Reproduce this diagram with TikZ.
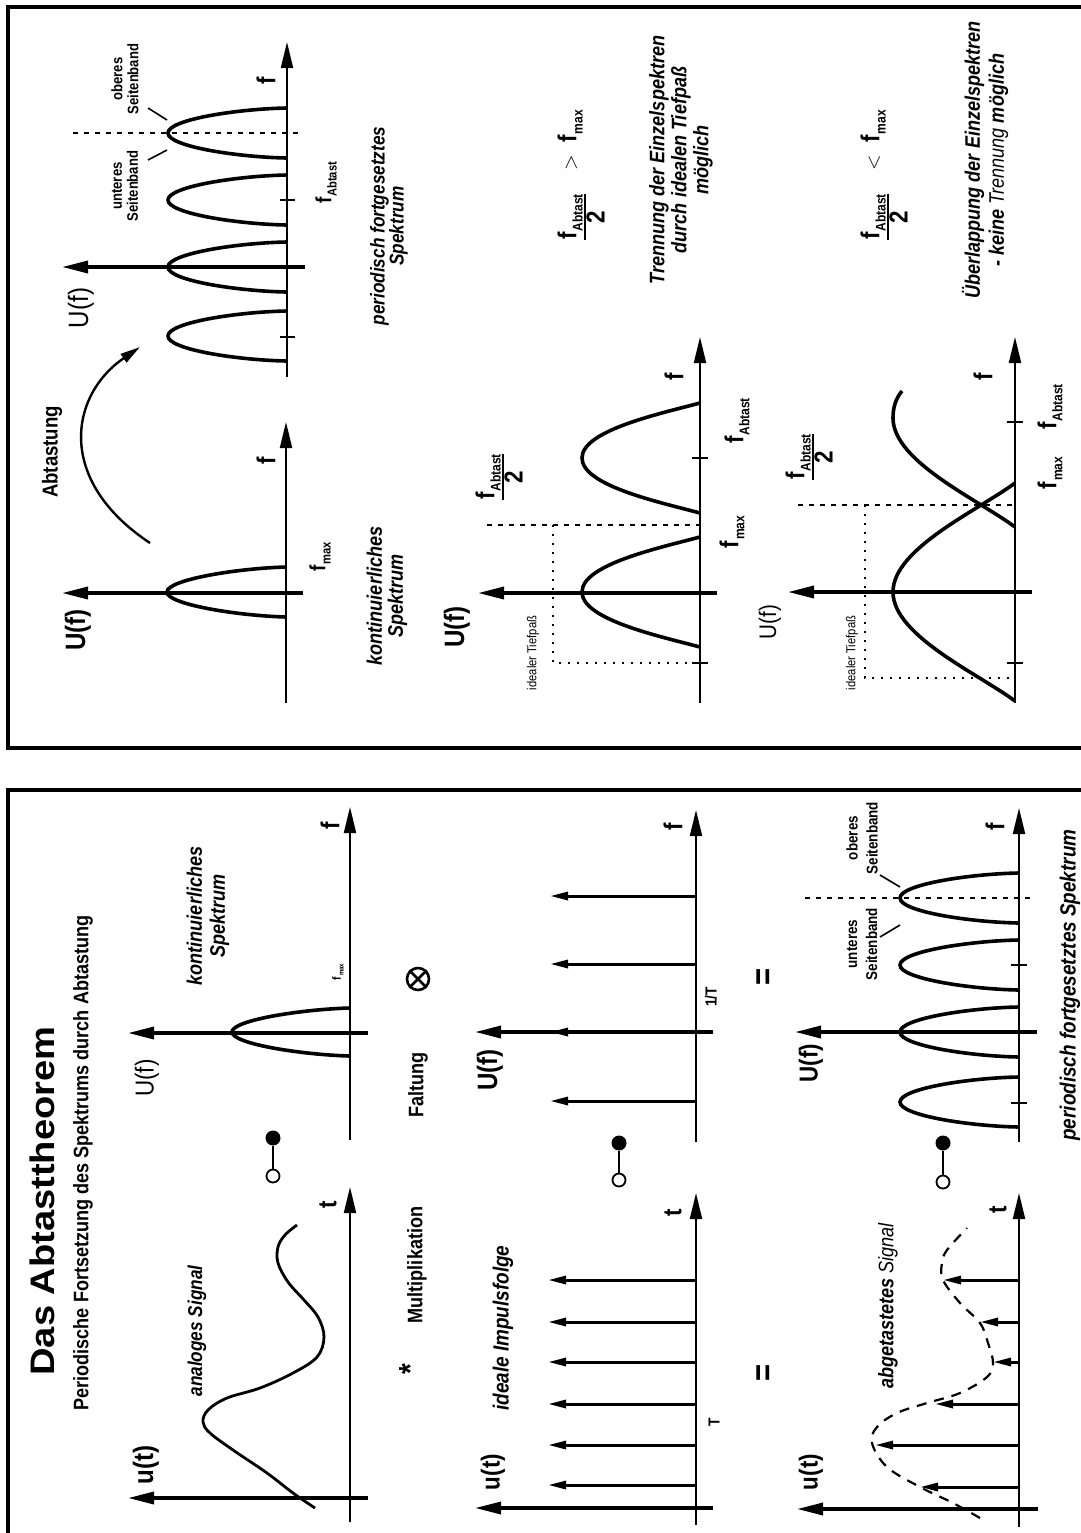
\documentclass[tikz,border=0pt]{standalone}
\usepackage{fontspec}
\setmainfont{Liberation Sans}[FakeStretch=0.86]
\newfontfamily\titlefont{Liberation Sans}[FakeStretch=1.12]
\usetikzlibrary{arrows.meta}
\newcommand{\fsz}[2]{\fontsize{#1}{#2}\selectfont}
\newcommand{\fsub}[2]{\textbf{f}\kern0.4pt\raisebox{-0.45ex}{\fontsize{#1}{#1}\selectfont\bfseries #2}}
\newcommand{\ffrac}[1]{{\setlength{\arrayrulewidth}{1.1pt}\setlength{\tabcolsep}{0pt}\begin{tabular}[t]{c}\fsub{#1}{Abtast}\\\hline\textbf{2}\end{tabular}}}
\newcommand{\bell}[7]{%
 \draw[bellsty] (#1,{#3-#4}) .. controls ({#1-#5*(#1-#2)},{#3-#6*#4}) and (#2,{#3-#7*#4}) .. (#2,#3)
   .. controls (#2,{#3+#7*#4}) and ({#1-#5*(#1-#2)},{#3+#6*#4}) .. (#1,{#3+#4});}
\begin{document}
\begin{tikzpicture}[x=0.5pt,y=-0.5pt,
 lbl/.style={rotate=90,inner sep=0pt},
 frame/.style={line width=2pt},
 ax/.style={line width=1pt,-{Triangle[length=13pt,width=6pt]}},
 uax/.style={line width=1.7pt,-{Triangle[length=13pt,width=6pt]}},
 imp/.style={line width=1.5pt,-{Triangle[length=9pt,width=4pt]}},
 bellsty/.style={line width=1.8pt},
 sig/.style={line width=1.4pt},
 dsig/.style={line width=1.1pt,dash pattern=on 5pt off 4pt},
 hdash/.style={line width=1.3pt,dash pattern=on 2.5pt off 3pt},
 dotl/.style={line width=1pt,dash pattern=on 1pt off 3.5pt},
 tick/.style={line width=1pt},
 thinl/.style={line width=0.8pt},
 fdot/.style={circle,fill,inner sep=0pt,minimum size=7.5pt},
 odot/.style={circle,draw,line width=0.9pt,inner sep=0pt,minimum size=6.5pt}]
\fill[white] (0,0) rectangle (1081,1533);
\useasboundingbox (0,0) rectangle (1081,1533);
% frames
\draw[frame] (1081,7) -- (8,7) -- (8,748) -- (1081,748);
\draw[frame] (1081,790) -- (8,790) -- (8,1533);
% ================= bottom panel =================
\node[lbl,font=\titlefont\fsz{17}{17}\bfseries] (title) at (42,1201) {Das Abtasttheorem};
\node[lbl,font=\fsz{10.5}{10.5}\bfseries] (subtitle) at (83,1163) {Periodische Fortsetzung des Spektrums durch Abtastung};
% row 1 time
\draw[ax] (350,1522) -- (350,1187);
\draw[uax] (368,1498) -- (128,1498);
\node[lbl,font=\fsz{13}{13}\bfseries] (t1) at (328,1205) {t};
\node[lbl,font=\fsz{14}{14}\bfseries] (u1) at (146,1465) {u(t)};
\draw[sig] plot[smooth,tension=0.6] coordinates {(315,1508) (293,1493) (267,1473) (233,1450) (210,1433) (203,1422) (208,1410) (227,1398) (260,1388) (293,1373) (317,1357) (324,1337) (318,1317) (304,1300) (288,1282) (278,1263) (278,1247) (285,1235) (297,1225)};
\node[lbl,font=\fsz{10}{10}\bfseries\itshape] (ana) at (197,1331) {analoges Signal};
\node[fdot] (k1a) at (273,1138) {};
\node[odot] (k1b) at (273,1176) {};
\draw[thinl] (k1a) -- (k1b);
% row 1 spectrum
\draw[ax] (350,1140) -- (350,807);
\draw[uax] (368,1033) -- (128,1033);
\bell{350}{232}{1032}{24}{0.4}{0.95}{0.5}
\node[lbl,font=\fsz{13}{13}\bfseries] (f1) at (330,826) {f};
\node[lbl,font=\fsz{6}{6}] (fm1) at (338,972) {\fsub{3.5}{max}};
\node[lbl,font=\fsz{13}{13}] (U1) at (147,1078) {U(f)};
\node[lbl,font=\fsz{10.5}{11.5}\bfseries\itshape,align=center] (ks1) at (208,916) {kontinuierliches\\Spektrum};
% row 2 time
\node[lbl,font=\fsz{16}{16}\bfseries] (star) at (410,1369) {*};
\node[lbl,font=\fsz{10.5}{10.5}\bfseries] (mult) at (417,1265) {Multiplikation};
\node[lbl,font=\fsz{11}{11}\bfseries\itshape] (impf) at (503,1328) {ideale Impulsfolge};
\node[lbl,font=\fsz{13}{13}\bfseries] (u2) at (493,1472) {u(t)};
\draw[ax] (696,1525) -- (696,1193);
\draw[uax] (713,1508) -- (475,1508);
\foreach \yy in {1280,1322,1362,1404,1445,1485} {\draw[imp] (696,\yy) -- (548,\yy);}
\node[lbl,font=\fsz{13}{13}\bfseries] (t2) at (673,1213) {t};
\node[lbl,font=\fsz{8}{8}\bfseries] (T2) at (714,1422) {T};
\node[lbl,font=\fsz{10.5}{10.5}\bfseries] (falt) at (418,1085) {Faltung};
\node[circle,draw,line width=1.3pt,inner sep=0pt,minimum size=11pt] (ot) at (418,979) {};
\draw[line width=1.3pt] (ot.45) -- (ot.225) (ot.135) -- (ot.315);
\node[fdot] (k2a) at (619,1143) {};
\node[odot] (k2b) at (619,1180) {};
\draw[thinl] (k2a) -- (k2b);
% row 2 spectrum
\node[lbl,font=\fsz{14}{14}\bfseries] (U2) at (490,1070) {U(f)};
\draw[ax] (696,1142) -- (696,810);
\draw[uax] (713,1032) -- (475,1032);
\foreach \yy in {1101,1032,964,896} {\draw[imp] (696,\yy) -- (550,\yy);}
\node[lbl,font=\fsz{13}{13}\bfseries] (f2) at (673,827) {f};
\node[lbl,font=\fsz{8}{8}\bfseries] (oneT) at (711,997) {1/T};
\node[lbl,font=\fsz{17}{17}\bfseries] (eq1) at (766,977) {=};
\node[lbl,font=\fsz{17}{17}\bfseries] (eq2) at (766,1373) {=};
% row 3 time
\node[lbl,font=\fsz{13}{13}\bfseries] (u3) at (811,1472) {u(t)};
\node[lbl,font=\fsz{10.5}{10.5}] (abg) at (888,1306) {{\bfseries\itshape abgetastetes} {\itshape Signal}};
\draw[ax] (1019,1527) -- (1019,1193);
\draw[uax] (1038,1509) -- (797,1509);
\foreach \yy/\xx in {1487/920,1445/875,1404/935,1362/993,1322/980,1280/943} {\draw[imp] (1019,\yy) -- (\xx,\yy);}
\draw[dsig] plot[smooth,tension=0.6] coordinates {(980,1518) (953,1503) (920,1487) (887,1467) (872,1443) (877,1427) (897,1413) (927,1403) (960,1393) (987,1377) (993,1363) (988,1343) (980,1323) (960,1303) (943,1280) (942,1263) (947,1250) (967,1228)};
\node[lbl,font=\fsz{13}{13}\bfseries] (t3) at (998,1210) {t};
\node[fdot] (k3a) at (943,1143) {};
\node[odot] (k3b) at (943,1182) {};
\draw[thinl] (k3a) -- (k3b);
% row 3 spectrum
\node[lbl,font=\fsz{13}{13}\bfseries] (U3) at (811,1063) {U(f)};
\draw[ax] (1019,1142) -- (1019,808);
\draw[uax] (1037,1032) -- (795,1032);
\foreach \cy in {898,965,1032,1102} {\bell{1019}{900}{\cy}{25}{0.4}{0.97}{0.55}}
\draw[tick] (1011,965) -- (1027,965);
\draw[tick] (1011,1103) -- (1027,1103);
\draw[hdash] (805,898) -- (1030,898);
\node[lbl,font=\fsz{7.8}{10}\bfseries,align=center] (us3) at (862,944) {unteres\\Seitenband};
\node[lbl,font=\fsz{7.8}{10}\bfseries,align=center] (os3) at (862,838) {oberes\\Seitenband};
\draw[thinl] (880,937) -- (900,925);
\draw[thinl] (880,875) -- (900,887);
\node[lbl,font=\fsz{13}{13}\bfseries] (f3) at (995,827) {f};
\node[lbl,font=\fsz{11}{11}\bfseries\itshape] (per3) at (1070,985) {periodisch fortgesetztes Spektrum};
% ================= top panel =================
% row 1 left
\node[lbl,font=\fsz{10.8}{10.8}\bfseries] (abt) at (52,452) {Abtastung};
\draw[line width=1.2pt,-{Triangle[length=10pt,width=5pt]}] (150,543) .. controls (55,480) and (70,395) .. (140,347);
\node[lbl,font=\fsz{14}{14}\bfseries] (U4) at (78,630) {U(f)};
\draw[uax] (303,593) -- (62,593);
\draw[ax] (286,703) -- (286,422);
\bell{286}{167}{592}{25}{0.4}{0.95}{0.5}
\node[lbl,font=\fsz{13}{13}\bfseries] (f4) at (266,461) {f};
\node[lbl,font=\fsz{11}{11}] (fm4) at (320,557) {\fsub{6.5}{max}};
\node[lbl,font=\fsz{10.5}{10.5}\bfseries\itshape,align=center] (ks4) at (387,596) {kontinuierliches\\Spektrum};
% row 1 right
\node[lbl,font=\fsz{14}{14}] (U5) at (81,308) {U(f)};
\draw[uax] (305,267) -- (62,267);
\draw[ax] (287,377) -- (287,42);
\foreach \cy in {133,200,267,336} {\bell{287}{168}{\cy}{25}{0.4}{0.97}{0.55}}
\draw[tick] (280,200) -- (295,200);
\draw[tick] (280,337) -- (295,337);
\draw[hdash] (73,133) -- (298,133);
\node[lbl,font=\fsz{7.6}{8}\bfseries,align=center] (us5) at (125,186) {unteres\\Seitenband};
\node[lbl,font=\fsz{7.6}{8}\bfseries,align=center] (os5) at (125,79) {oberes\\Seitenband};
\draw[thinl] (148,160) -- (167,150);
\draw[thinl] (148,108) -- (167,120);
\node[lbl,font=\fsz{13}{13}\bfseries] (f5) at (266,81) {f};
\node[lbl,font=\fsz{11}{11}] (fa5) at (326,183) {\fsub{6.5}{Abtast}};
\node[lbl,font=\fsz{10}{9.5}\bfseries\itshape,align=center] (per5) at (389,226) {periodisch fortgesetztes\\Spektrum};
% row 2
\node[lbl,font=\fsz{13}{13}] (form2) at (585,175) {\ffrac{7}\hspace{12pt}{\fsz{10}{10}$>$}\hspace{6pt}\fsub{7}{max}};
\node[lbl,font=\fsz{10.5}{11}\bfseries\itshape,align=center] (tren) at (681,160) {Trennung der Einzelspektren\\durch idealen Tiefpaß\\möglich};
\node[lbl,font=\fsz{14}{14}\bfseries] (U6) at (457,627) {U(f)};
\draw[uax] (717,593) -- (478,593);
\draw[ax] (700,703) -- (700,337);
\bell{700}{582}{592}{55}{0.35}{0.8}{0.5}
\bell{700}{582}{458}{55}{0.35}{0.8}{0.5}
\draw[tick] (692,458) -- (708,458);
\draw[tick] (692,663) -- (708,663);
\draw[hdash] (487,525) -- (700,525);
\draw[dotl] (553,525) -- (553,663) -- (700,663);
\node[lbl,font=\fsz{6.5}{6.5}] (tp6) at (533,653) {idealer Tiefpaß};
\node[lbl,font=\fsz{13}{13}] (fr6) at (503,477) {\ffrac{7}};
\node[lbl,font=\fsz{13}{13}] (fm6) at (732,532) {\fsub{7}{max}};
\node[lbl,font=\fsz{13}{13}] (fa6) at (737,421) {\fsub{7}{Abtast}};
\node[lbl,font=\fsz{13}{13}\bfseries] (f6) at (674,377) {f};
% row 3
\node[lbl,font=\fsz{13}{13}] (form7) at (888,175) {\ffrac{7}\hspace{12pt}{\fsz{10}{10}$<$}\hspace{6pt}\fsub{7}{max}};
\node[lbl,font=\fsz{10.5}{12}\bfseries\itshape,align=center] (ueb) at (985,160) {Überlappung der Einzelspektren\\- keine {\mdseries Trennung} möglich};
\node[lbl,font=\fsz{12}{12}] (U7) at (770,622) {U(f)};
\draw[uax] (1032,592) -- (788,592);
\draw[ax] (1015,703) -- (1015,337);
\bell{1015}{893}{592}{109}{0.3}{0.75}{0.4}
\draw[bellsty] (1015,527) .. controls (978.4,499.75) and (893,461.6) .. (893,418) .. controls (893,407) and (896,398) .. (902,391);
\draw[tick] (1007,422) -- (1023,422);
\draw[tick] (1007,663) -- (1023,663);
\draw[hdash] (798,505) -- (1015,505);
\draw[dotl] (865,505) -- (865,678) -- (1015,678);
\node[lbl,font=\fsz{6.5}{6.5}] (tp7) at (852,653) {idealer Tiefpaß};
\node[lbl,font=\fsz{13}{13}] (fr7) at (813,457) {\ffrac{7}};
\node[lbl,font=\fsz{13}{13}] (fm7) at (1050,473) {\fsub{7}{max}};
\node[lbl,font=\fsz{13}{13}] (fa7) at (1050,407) {\fsub{7}{Abtast}};
\node[lbl,font=\fsz{13}{13}\bfseries] (f7) at (983,377) {f};
\end{tikzpicture}
\end{document}
